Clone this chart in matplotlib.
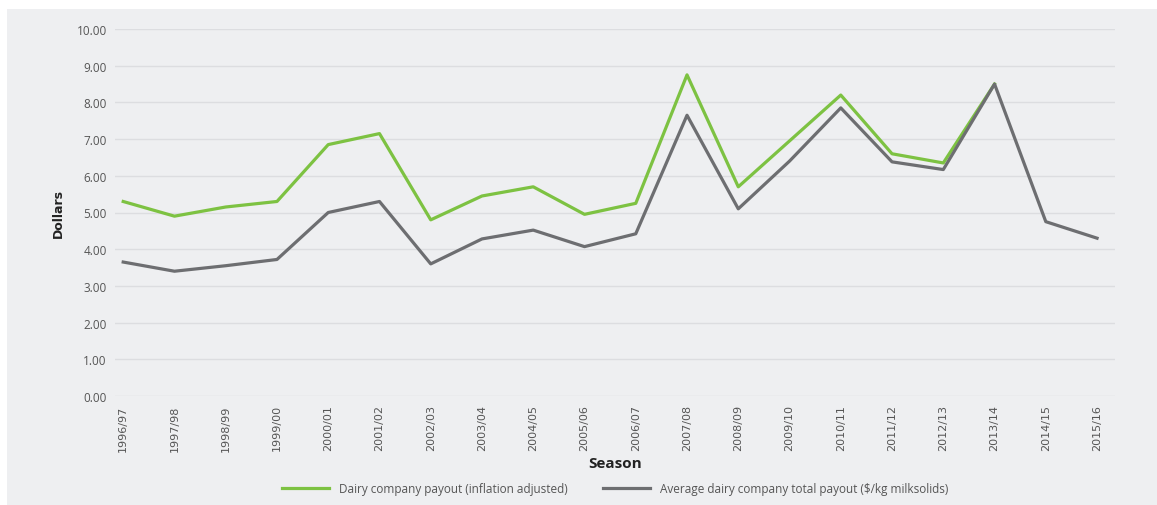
import matplotlib.pyplot as plt
from matplotlib.patches import Rectangle

seasons = ['1996/97', '1997/98', '1998/99', '1999/00', '2000/01', '2001/02', '2002/03',
           '2003/04', '2004/05', '2005/06', '2006/07', '2007/08', '2008/09', '2009/10',
           '2010/11', '2011/12', '2012/13', '2013/14', '2014/15', '2015/16']

# inflation adjusted payout (series stops at 2013/14)
adjusted = [5.30, 4.90, 5.15, 5.30, 6.85, 7.15, 4.80, 5.45, 5.70, 4.95, 5.25,
            8.75, 5.70, 6.95, 8.20, 6.60, 6.35, 8.50]
# average total payout ($/kg milksolids)
total = [3.65, 3.40, 3.55, 3.72, 5.00, 5.30, 3.60, 4.28, 4.52, 4.07, 4.42,
         7.65, 5.10, 6.40, 7.85, 6.38, 6.17, 8.50, 4.75, 4.30]

green = '#7dc242'
grey = '#6d6e71'
bg = '#eeeff1'

plt.rcParams['font.family'] = ['Open Sans', 'DejaVu Sans']

fig = plt.figure(figsize=(11.57, 5.06), dpi=100, facecolor='white')
fig.patches.append(Rectangle((7 / 1157, 0), 1 - 7 / 1157, 1 - 10 / 506,
                             transform=fig.transFigure, facecolor=bg,
                             edgecolor='none', zorder=-10))

ax = fig.add_axes([115 / 1157, 109 / 506, 1000 / 1157, 367 / 506])
ax.set_facecolor(bg)

x = list(range(len(seasons)))
ax.plot(x[:len(adjusted)], adjusted, color=green, lw=2.3,
        label='Dairy company payout (inflation adjusted)', zorder=3)
ax.plot(x, total, color=grey, lw=2.3,
        label='Average dairy company total payout ($/kg milksolids)', zorder=4)

ax.set_ylim(0, 10)
ax.set_xlim(-0.16, 19.35)
ax.set_yticks([i for i in range(11)])
ax.set_yticklabels([f'{i:.2f}' for i in range(11)], fontsize=8.5, color='#555555')
ax.set_xticks(x)
ax.set_xticklabels(seasons, rotation=90, fontsize=8, color='#555555',
                   family=['Liberation Sans Narrow', 'DejaVu Sans'])
ax.tick_params(length=0, pad=6)
ax.grid(axis='y', color='#dcdde0', lw=1)
ax.set_axisbelow(True)
for s in ax.spines.values():
    s.set_visible(False)

ax.set_ylabel('Dollars', fontsize=9, fontweight='bold', color='#222222', labelpad=8,
              family=['Liberation Sans Narrow', 'DejaVu Sans'])
ax.set_xlabel('Season', fontsize=11, fontweight='bold', color='#222222', labelpad=4)

fig.legend(loc='center', bbox_to_anchor=(615 / 1157, 1 - 490 / 506), ncol=2,
           frameon=False, fontsize=8.5, handlelength=4, columnspacing=3,
           labelcolor='#555555')

fig.savefig('out.png', dpi=100, facecolor=fig.get_facecolor())
